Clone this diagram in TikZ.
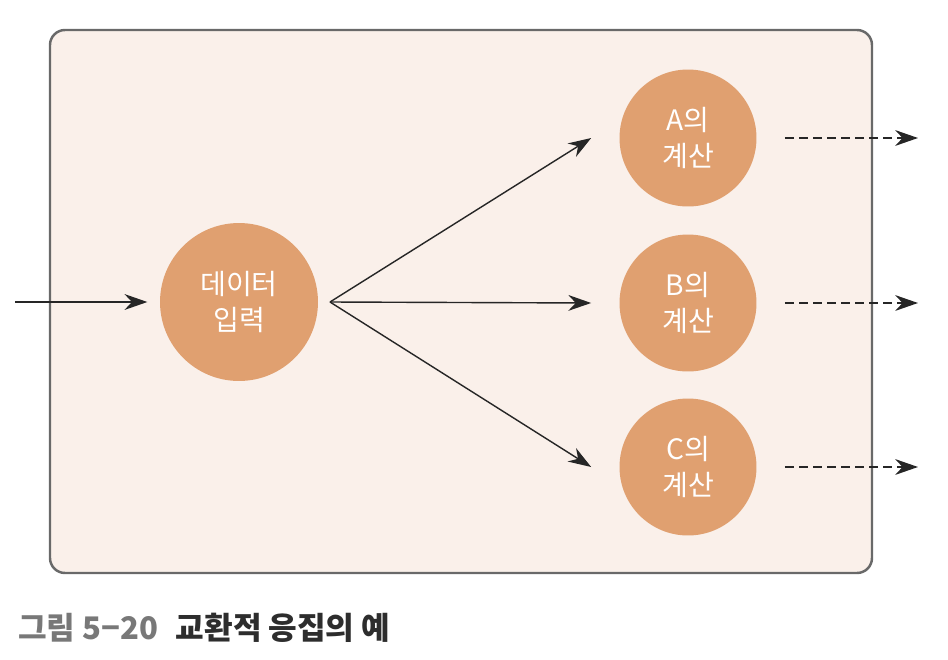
\documentclass[tikz,border=0pt]{standalone}
\usepackage{fontspec}
\newfontfamily\kr{Noto Sans CJK KR}
\usetikzlibrary{arrows.meta}
\definecolor{boxfill}{RGB}{250,240,234}
\definecolor{boxline}{RGB}{105,105,105}
\definecolor{stepfill}{RGB}{224,160,112}
\definecolor{capgray}{RGB}{120,120,120}
\definecolor{captext}{RGB}{45,45,45}

\begin{document}
\begin{tikzpicture}
  [x=0.02cm,y=-0.02cm,>={Stealth[length=13pt,width=9pt]},
   stepnode/.style={circle,fill=stepfill,text=white,inner sep=0pt,align=center,
     font=\kr\fontsize{16}{20}\selectfont,minimum size=2.74cm},
   bignode/.style={stepnode,minimum size=3.16cm},
   flow/.style={->,line width=0.8pt,black!85}]
  \useasboundingbox (0,0) rectangle (948,660);
  \draw[boxline,line width=1.4pt,fill=boxfill,rounded corners=0.3cm] (50,30) rectangle (872,573);

  \node[bignode] (in) at (239,302) {데이터\\입력};
  \node[stepnode] (a) at (688,138) {A의\\계산};
  \node[stepnode] (b) at (688,303) {B의\\계산};
  \node[stepnode] (c) at (688,467) {C의\\계산};

  \coordinate (src) at (15,302);
  \coordinate (fan) at (330,302);
  \foreach \n/\y in {a/138,b/303,c/467}
    \coordinate (out\n) at (918,\y);

  \draw[flow,shorten >=7pt] (src) -- (in);
  \foreach \to in {a,b,c}
    \draw[flow] (fan) -- ([xshift=-0.56cm]\to.west);
  \foreach \from in {a,b,c}
    \draw[flow,dashed,dash pattern=on 5pt off 3pt,shorten <=16pt] (\from) -- (out\from);

  \node[anchor=west,font=\kr\bfseries\fontsize{17.7}{20}\selectfont] (cap) at (12,628)
    {\textcolor{capgray}{그림 5−20}\hspace{0.35cm}\textcolor{captext}{교환적 응집의 예}};
\end{tikzpicture}
\end{document}
